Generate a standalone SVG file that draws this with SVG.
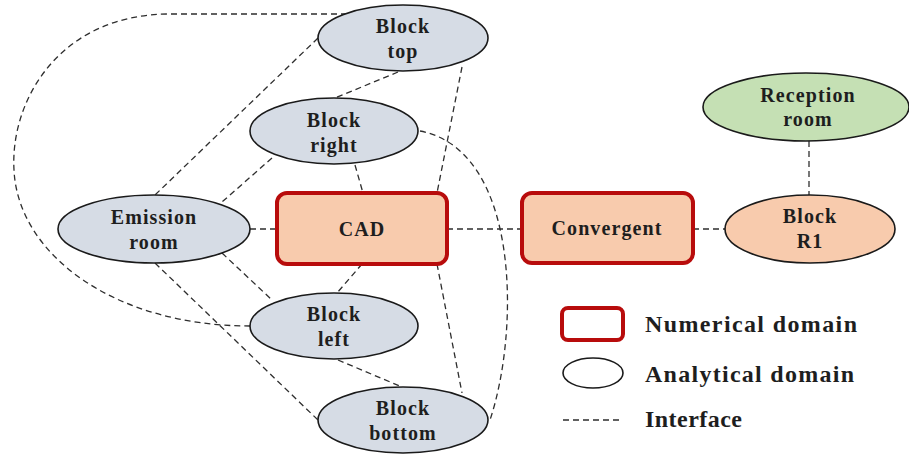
<svg xmlns="http://www.w3.org/2000/svg" width="909" height="454" viewBox="0 0 909 454">
<style>
text{font-family:"Liberation Serif","Times New Roman",serif;font-weight:bold;fill:#1e1e1e;text-anchor:middle}
.lbl{font-size:20px;letter-spacing:1.1px}
.leg{font-size:24px;text-anchor:start;letter-spacing:1px}
.ana{fill:#d6dce5;stroke:#1a1a1a;stroke-width:1.6}
.num{fill:#f8cbad;stroke:#b80c0c;stroke-width:4}
.con{fill:none;stroke:#2e2e2e;stroke-width:1.3;stroke-dasharray:6 4}
</style>
<rect width="909" height="454" fill="#fff"/>
<g id="connectors">
<path class="con" d="M347 14 L170 14 C60 14 10 100 14 170 C18 255 115 326 250 326"/>
<path class="con" d="M318 38 L155 195"/>
<path class="con" d="M398 72 L335 98"/>
<path class="con" d="M462 67 L437 193"/>
<path class="con" d="M272 158 L222 202"/>
<path class="con" d="M355 165 L363 193"/>
<path class="con" d="M420 131 C520 150 520 330 490 420"/>
<path class="con" d="M250 229 L277 229"/>
<path class="con" d="M447 229 L522 229"/>
<path class="con" d="M693 229 L725 229"/>
<path class="con" d="M809 141 L809 195"/>
<path class="con" d="M155 263 L318 420"/>
<path class="con" d="M222 253 L272 300"/>
<path class="con" d="M362 264 L337 293"/>
<path class="con" d="M437 264 L462 393"/>
<path class="con" d="M338 360 L402 387"/>
</g>
<g id="block-top"><ellipse class="ana" cx="403" cy="38" rx="85" ry="33"/><text class="lbl" x="403" y="33">Block</text><text class="lbl" x="403" y="58">top</text></g>
<g id="block-right"><ellipse class="ana" cx="334" cy="131" rx="84" ry="33"/><text class="lbl" x="334" y="127">Block</text><text class="lbl" x="334" y="152">right</text></g>
<g id="emission-room"><ellipse class="ana" cx="154" cy="229" rx="96" ry="34"/><text class="lbl" x="154" y="224">Emission</text><text class="lbl" x="154" y="249">room</text></g>
<g id="cad"><rect class="num" x="277" y="193" width="170" height="71" rx="10"/><text class="lbl" x="362" y="236">CAD</text></g>
<g id="block-left"><ellipse class="ana" cx="334" cy="326" rx="84" ry="33"/><text class="lbl" x="334" y="321">Block</text><text class="lbl" x="334" y="346">left</text></g>
<g id="block-bottom"><ellipse class="ana" cx="403" cy="420" rx="85" ry="33"/><text class="lbl" x="403" y="415">Block</text><text class="lbl" x="403" y="440">bottom</text></g>
<g id="convergent"><rect class="num" x="522" y="193" width="171" height="70" rx="10"/><text class="lbl" x="607" y="235">Convergent</text></g>
<g id="block-r1"><ellipse class="ana" cx="810" cy="229" rx="85" ry="34" style="fill:#f8cbad"/><text class="lbl" x="810" y="223">Block</text><text class="lbl" x="810" y="248">R1</text></g>
<g id="reception-room"><ellipse class="ana" cx="806" cy="107" rx="103" ry="34" style="fill:#c5e0b4"/><text class="lbl" x="808" y="102">Reception</text><text class="lbl" x="808" y="126">room</text></g>
<g id="legend">
<rect x="562" y="308" width="61" height="32" rx="6" fill="#fff" stroke="#b80c0c" stroke-width="4"/>
<ellipse cx="593" cy="373" rx="30" ry="15" fill="#fff" stroke="#1a1a1a" stroke-width="1.6"/>
<path class="con" d="M563 420 L621 420"/>
<text class="leg" x="645" y="332" textLength="213" lengthAdjust="spacing">Numerical domain</text>
<text class="leg" x="645" y="382" textLength="210" lengthAdjust="spacing">Analytical domain</text>
<text class="leg" x="645" y="427" textLength="98" lengthAdjust="spacing">Interface</text>
</g>
</svg>
